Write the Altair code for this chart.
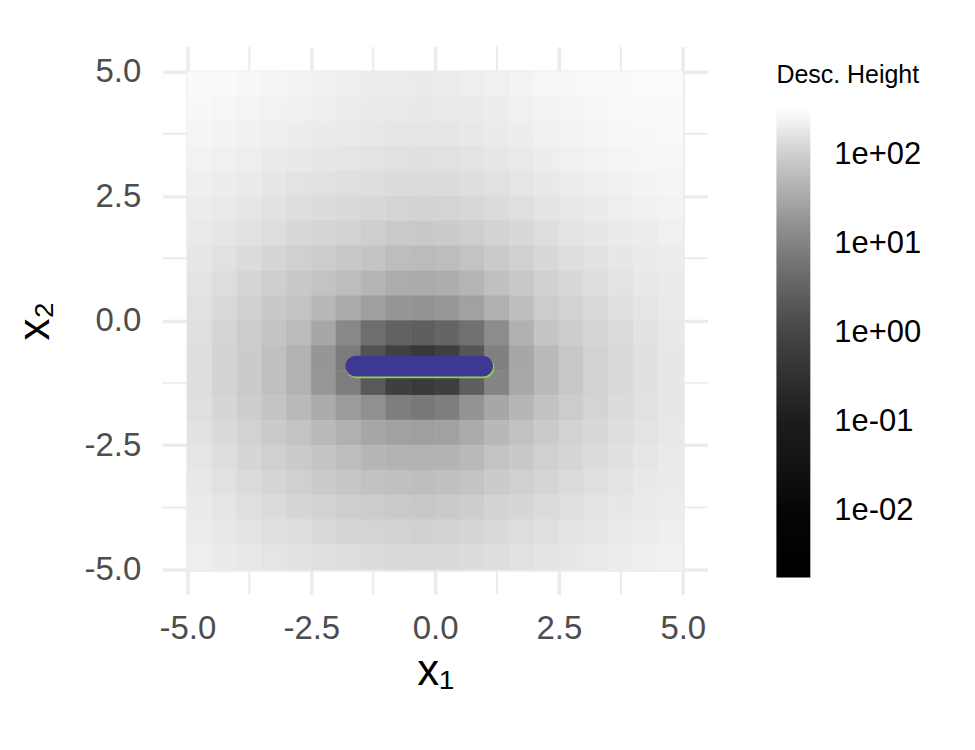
import altair as alt
import pandas as pd

# ---- data ----
x_centers = [-4.75, -4.25, -3.75, -3.25, -2.75, -2.25, -1.75, -1.25, -0.75, -0.25,
             0.25, 0.75, 1.25, 1.75, 2.25, 2.75, 3.25, 3.75, 4.25, 4.75]
y_centers = [4.75, 4.25, 3.75, 3.25, 2.75, 2.25, 1.75, 1.25, 0.75, 0.25,
             -0.25, -0.75, -1.25, -1.75, -2.25, -2.75, -3.25, -3.75, -4.25, -4.75]
cell_half = 0.25

# log10(Desc. Height), one row per y_center, one value per x_center
log_height = [
    [2.48, 2.46, 2.44, 2.42, 2.40, 2.38, 2.36, 2.34, 2.33, 2.32, 2.33, 2.35, 2.37, 2.40, 2.43, 2.45, 2.47, 2.48, 2.49, 2.50],
    [2.45, 2.43, 2.41, 2.39, 2.37, 2.35, 2.33, 2.31, 2.30, 2.29, 2.30, 2.32, 2.34, 2.37, 2.40, 2.42, 2.44, 2.46, 2.47, 2.48],
    [2.42, 2.40, 2.38, 2.36, 2.34, 2.32, 2.30, 2.28, 2.26, 2.25, 2.26, 2.28, 2.31, 2.34, 2.37, 2.40, 2.42, 2.44, 2.45, 2.46],
    [2.39, 2.37, 2.35, 2.32, 2.29, 2.27, 2.25, 2.23, 2.21, 2.20, 2.21, 2.23, 2.27, 2.30, 2.34, 2.37, 2.39, 2.41, 2.43, 2.44],
    [2.36, 2.34, 2.31, 2.27, 2.23, 2.21, 2.19, 2.17, 2.15, 2.14, 2.15, 2.17, 2.21, 2.25, 2.29, 2.33, 2.36, 2.38, 2.40, 2.42],
    [2.33, 2.30, 2.26, 2.22, 2.18, 2.15, 2.13, 2.10, 2.07, 2.06, 2.07, 2.10, 2.15, 2.19, 2.24, 2.28, 2.32, 2.35, 2.38, 2.40],
    [2.30, 2.26, 2.21, 2.16, 2.11, 2.08, 2.05, 2.00, 1.95, 1.94, 1.96, 2.00, 2.06, 2.11, 2.18, 2.23, 2.27, 2.31, 2.34, 2.37],
    [2.27, 2.21, 2.15, 2.09, 2.02, 1.98, 1.93, 1.88, 1.78, 1.76, 1.79, 1.86, 1.96, 2.03, 2.11, 2.17, 2.22, 2.27, 2.31, 2.34],
    [2.24, 2.16, 2.09, 2.01, 1.92, 1.86, 1.78, 1.68, 1.57, 1.55, 1.58, 1.68, 1.82, 1.92, 2.03, 2.11, 2.17, 2.23, 2.28, 2.32],
    [2.21, 2.12, 2.03, 1.94, 1.86, 1.72, 1.55, 1.40, 1.28, 1.25, 1.30, 1.42, 1.62, 1.80, 1.98, 2.06, 2.13, 2.19, 2.25, 2.30],
    [2.19, 2.08, 1.98, 1.87, 1.76, 1.50, 1.10, 0.70, 0.50, 0.45, 0.55, 0.75, 1.15, 1.63, 1.88, 1.99, 2.08, 2.15, 2.22, 2.28],
    [2.17, 2.06, 1.96, 1.83, 1.64, 1.28, 0.90, 0.25, -0.10, -0.30, -0.15, 0.30, 1.00, 1.50, 1.74, 1.93, 2.04, 2.12, 2.20, 2.27],
    [2.17, 2.06, 1.96, 1.83, 1.65, 1.30, 0.95, 0.35, -0.15, -0.25, -0.15, 0.45, 1.05, 1.52, 1.75, 1.93, 2.04, 2.12, 2.20, 2.27],
    [2.19, 2.09, 1.99, 1.88, 1.74, 1.55, 1.35, 1.20, 0.95, 0.85, 0.95, 1.25, 1.50, 1.68, 1.85, 1.98, 2.07, 2.14, 2.21, 2.27],
    [2.22, 2.13, 2.04, 1.95, 1.86, 1.75, 1.62, 1.50, 1.42, 1.40, 1.42, 1.55, 1.72, 1.84, 1.95, 2.04, 2.11, 2.17, 2.23, 2.28],
    [2.25, 2.17, 2.09, 2.02, 1.95, 1.87, 1.78, 1.70, 1.66, 1.64, 1.66, 1.74, 1.86, 1.94, 2.02, 2.09, 2.15, 2.20, 2.26, 2.30],
    [2.28, 2.21, 2.14, 2.08, 2.02, 1.96, 1.90, 1.85, 1.82, 1.80, 1.82, 1.88, 1.96, 2.02, 2.08, 2.14, 2.19, 2.24, 2.29, 2.32],
    [2.31, 2.25, 2.19, 2.14, 2.09, 2.05, 2.00, 1.97, 1.95, 1.93, 1.95, 1.99, 2.05, 2.09, 2.14, 2.19, 2.23, 2.27, 2.31, 2.34],
    [2.33, 2.29, 2.24, 2.20, 2.16, 2.13, 2.09, 2.07, 2.05, 2.03, 2.05, 2.08, 2.12, 2.16, 2.20, 2.24, 2.27, 2.30, 2.34, 2.36],
    [2.36, 2.32, 2.28, 2.25, 2.22, 2.19, 2.17, 2.15, 2.13, 2.12, 2.13, 2.15, 2.18, 2.21, 2.24, 2.27, 2.30, 2.33, 2.36, 2.38],
]

# path segments (blue drawn on top of green)
seg_x_start = [-1.59, -1.60]
seg_x_end = [0.985, 0.96]
seg_y = [-0.945, -0.914]
seg_name = ["green", "blue"]

# legend / colour scale stops
legend_stops = [0.0018, 0.01, 0.1, 1, 10, 100, 337]
legend_grays = ["#000000", "#050505", "#1c1c1c", "#454545", "#818181", "#cecece", "#ffffff"]
legend_ticks = [0.01, 0.1, 1, 10, 100]

major_ticks = [-5.0, -2.5, 0.0, 2.5, 5.0]
minor_ticks = [-3.75, -1.25, 1.25, 3.75]

# ---- tables ----
rows = []
for yi, yc in enumerate(y_centers):
    for xi, xc in enumerate(x_centers):
        rows.append({
            "x0": xc - cell_half, "x1": xc + cell_half,
            "y0": yc - cell_half, "y1": yc + cell_half,
            "h": 10 ** log_height[yi][xi],
        })
heat_df = pd.DataFrame(rows)
seg_df = pd.DataFrame({"xs": seg_x_start, "xe": seg_x_end, "y": seg_y, "name": seg_name})
minor_df = pd.DataFrame({"v": minor_ticks})

FONT = "Liberation Sans"
xscale = alt.Scale(domain=[-5.5, 5.5], nice=False, zero=False)
yscale = alt.Scale(domain=[-5.5, 5.5], nice=False, zero=False)
cscale = alt.Scale(type="log", domain=legend_stops, range=legend_grays, clamp=True)

legend_label_expr = ("datum.value < 0.05 ? '1e-02' : datum.value < 0.5 ? '1e-01' : "
                     "datum.value < 5 ? '1e+00' : datum.value < 50 ? '1e+01' : '1e+02'")
axis_label_expr = "replace(format(datum.value, '.1f'), '\u2212', '-')"

minor_v = alt.Chart(minor_df).mark_rule(color="#ebebeb", strokeWidth=2).encode(
    x=alt.X("v:Q", scale=xscale)
)
minor_h = alt.Chart(minor_df).mark_rule(color="#ebebeb", strokeWidth=2).encode(
    y=alt.Y("v:Q", scale=yscale)
)

heat = alt.Chart(heat_df).mark_rect(strokeWidth=0.6).encode(
    x=alt.X("x0:Q", scale=xscale,
            axis=alt.Axis(values=major_ticks, labelExpr=axis_label_expr, title="x₁")),
    x2="x1:Q",
    y=alt.Y("y0:Q", scale=yscale,
            axis=alt.Axis(values=major_ticks, labelExpr=axis_label_expr, title="x₂")),
    y2="y1:Q",
    color=alt.Color(
        "h:Q", scale=cscale, title="Desc. Height",
        legend=alt.Legend(
            values=legend_ticks, labelExpr=legend_label_expr,
            orient="none", legendX=615, legendY=16,
            direction="vertical", gradientLength=470, gradientThickness=34,
            gradientStrokeWidth=0, titleFontSize=25, titleFont=FONT,
            titleFontWeight="normal", titleColor="#000000", titlePadding=21,
            labelFontSize=31, labelFont=FONT, labelColor="#000000",
            labelOffset=24, labelOverlap=False,
        ),
    ),
    stroke=alt.Stroke("h:Q", scale=cscale, legend=None),
)

segs = alt.Chart(seg_df).mark_rule(strokeWidth=21, strokeCap="round").encode(
    x=alt.X("xs:Q", scale=xscale),
    x2="xe:Q",
    y=alt.Y("y:Q", scale=yscale),
    color=alt.Color("name:N",
                    scale=alt.Scale(domain=["green", "blue"], range=["#8fd744", "#3d3891"]),
                    legend=None),
    order=alt.Order("name:N", sort="descending"),
)

chart = alt.layer(minor_v, minor_h, heat, segs).resolve_scale(color="independent").properties(
    width=546, height=549,
    autosize=alt.AutoSizeParams(type="none"),
    padding={"left": 155, "top": 38, "right": 260, "bottom": 150},
).configure_view(stroke=None).configure_axis(
    grid=True, gridColor="#ebebeb", gridWidth=3.5, domain=False, ticks=False,
    tickSize=0, labelFont=FONT, labelFontSize=33, labelColor="#4d4d4d",
    titleFont=FONT, titleFontSize=44, titleFontWeight="normal", titleColor="#000000",
).configure_axisX(labelPadding=18, titlePadding=4).configure_axisY(
    labelPadding=22, titlePadding=27
)

chart.save("out.html", embed_options={"renderer": "svg", "actions": False})
